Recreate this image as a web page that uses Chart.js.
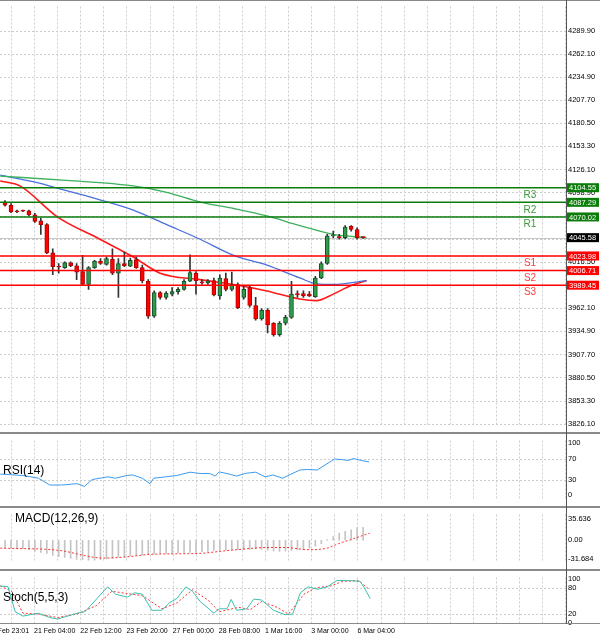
<!DOCTYPE html>
<html><head><meta charset="utf-8">
<script src="https://cdn.jsdelivr.net/npm/chart.js@4/dist/chart.umd.min.js"></script>
<style>
body{margin:0;width:600px;height:639px;background:#fff;position:relative;overflow:hidden;font-family:"Liberation Sans",Arial,sans-serif}
.p{position:absolute;left:0;width:600px}
.sep{position:absolute;left:0;width:600px;height:2px;background:#8a8a8a}
.lbl{position:absolute;font-size:12px;color:#000}
#vline{position:absolute;left:566px;top:0;width:1px;height:624px;background:#555}
</style></head><body>
<div class="p" style="top:0;height:432px"><canvas id="cMain"></canvas></div>
<div class="sep" style="top:0px;height:1px"></div>
<div class="sep" style="top:432px"></div>
<div class="p" style="top:434px;height:72px"><canvas id="cRsi"></canvas></div>
<div class="sep" style="top:506px"></div>
<div class="p" style="top:508px;height:61px"><canvas id="cMacd"></canvas></div>
<div class="sep" style="top:569px"></div>
<div class="p" style="top:571px;height:68px"><canvas id="cSto"></canvas></div>
<div class="sep" style="top:623px;height:1px"></div>
<div id="vline"></div>
<div class="lbl" style="left:3px;top:463px">RSI(14)</div>
<div class="lbl" style="left:15px;top:511px">MACD(12,26,9)</div>
<div class="lbl" style="left:3px;top:590px">Stoch(5,5,3)</div>
<script>
// ---- data ----
const openP=[4087.6,4083.8,4077.0,4077.3,4077.3,4072.4,4065.5,4060.9,4027.7,4011.3,4010.2,4015.9,4012.4,4005.6,3990.3,4010.2,4017.8,4014.0,4020.1,4003.7,4015.1,4012.0,4019.7,4010.2,3994.1,3952.9,3980.8,3975.0,3978.9,3981.9,3984.6,3994.1,4003.7,3993.4,3992.2,3994.9,3976.9,3997.2,3984.6,3990.3,3975.0,3986.5,3965.5,3949.5,3959.8,3944.5,3931.1,3944.5,3951.4,3979.6,3979.6,3978.9,3975.8,3998.0,4015.1,4047.6,4046.8,4045.6,4059.0,4055.2,4045.6];
const highP=[4089.5,4085.7,4078.1,4078.1,4078.1,4074.3,4068.6,4062.1,4032.3,4015.1,4017.0,4017.0,4015.1,4024.7,4011.3,4018.9,4020.8,4022.7,4032.3,4020.8,4028.5,4021.6,4022.7,4013.2,3996.0,3982.7,3981.9,3981.9,3986.5,3986.5,3996.0,4025.4,4005.6,3996.0,3996.0,3998.0,4001.8,4003.7,4004.8,3992.2,3988.4,3988.4,3975.0,3961.7,3961.7,3945.3,3946.4,3954.0,3994.1,3982.7,3982.7,3981.9,3999.8,4017.0,4049.5,4053.3,4049.5,4059.8,4059.8,4057.1,4046.5];
const lowP=[4082.7,4075.0,4075.0,4076.2,4071.2,4063.6,4049.5,4026.6,4001.8,4003.7,4009.4,4011.3,3996.0,3990.3,3984.6,4009.4,4014.0,4013.2,4001.8,3975.0,4011.3,4011.3,4009.4,3992.2,3950.2,3951.4,3973.1,3973.1,3976.9,3978.9,3983.5,3993.5,3978.9,3990.3,3990.3,3976.9,3973.1,3982.7,3982.7,3961.7,3973.1,3963.6,3948.3,3948.3,3933.1,3929.2,3929.2,3942.6,3950.2,3975.0,3975.0,3975.8,3975.0,3997.2,4014.0,4045.6,4043.7,4044.5,4053.3,4043.7,4044.8];
const closeP=[4083.8,4076.2,4076.2,4077.0,4072.4,4064.7,4060.9,4027.7,4011.3,4010.9,4016.3,4012.4,4004.8,3990.3,4010.2,4017.8,4015.1,4020.8,4003.7,4015.1,4012.4,4018.9,4010.2,3994.9,3952.9,3980.8,3975.0,3980.0,3981.9,3984.6,3994.1,4004.4,3994.9,3992.2,3994.5,3978.1,3998.0,3984.6,3990.3,3962.8,3984.6,3965.5,3949.5,3959.8,3942.6,3931.1,3944.5,3951.4,3978.9,3978.1,3976.9,3976.9,3998.0,4015.1,4047.6,4048.3,4045.6,4058.2,4055.2,4045.6,4045.58];
const maFast=[[-0.8,4112.4],[2.5,4106.7],[8.7,4070.5],[15.9,4043.7],[21.5,4022.7],[26,4003.7],[32.7,3996.0],[38.3,3990.3],[43.9,3982.7],[49.4,3973.1],[52.2,3971.2],[55,3978.9],[57.8,3988.4],[60.6,3994.9]];
const maMid=[[-0.8,4119.3],[4.7,4111.7],[10.3,4101.0],[15.9,4090.3],[21.5,4078.1],[27.1,4060.9],[32.7,4043.7],[38.3,4024.7],[43.9,4013.2],[49.4,3998.0],[52.2,3991.1],[55,3990.3],[60.6,3994.9]];
const maSlow=[[-0.8,4118.2],[10.3,4113.2],[21.5,4106.7],[27.1,4099.1],[32.7,4087.6],[38.3,4080.0],[43.9,4071.2],[49.4,4059.8],[55,4049.5],[60.6,4045.6]];
const resistance=[4104.55,4087.29,4070.02];
const resistanceNames=['R3','R2','R1'];
const support=[4023.98,4006.71,3989.45];
const supportNames=['S1','S2','S3'];
const lastPrice=4045.58;
const priceTicks=[4289.9,4262.1,4234.9,4207.7,4180.5,4153.3,4126.1,4098.9,4071.7,4044.5,4016.5,3989.3,3962.1,3934.9,3907.7,3880.5,3853.3,3826.1];
const rsi=[[-0.8,40.6],[3,38],[5.6,32.8],[7.5,19.8],[9.5,19.8],[12.1,22.4],[13.3,17.2],[14.6,30.2],[17.2,35.4],[18.5,32.8],[20.4,38],[21.4,39],[23,32.8],[24.3,22.4],[24.9,32.8],[26.9,35.4],[28.8,38],[31,44.3],[32.7,41.7],[34.3,41.7],[35.2,37],[35.9,44.8],[37.2,41.7],[38.8,37],[40.4,42.2],[42,44.3],[43.6,35.4],[44.9,39],[46.5,32.8],[49.4,48.4],[50.7,49.5],[52.3,48.4],[55.2,69.3],[56.5,68.2],[57.5,66.6],[58.4,70.3],[59.7,66.6],[61,64]];
const rsiTicks=[0,30,70,100];
const macdHist=[-13,-13,-13,-14,-15.6,-18,-20,-22,-25,-27,-28.6,-30,-31.6,-32,-33,-33,-32,-31,-29.5,-28,-27.3,-26,-25,-24,-23,-22.5,-22,-22,-22,-21,-20.8,-20,-20,-19,-18.6,-17,-16.5,-16,-16,-15.6,-15.6,-15,-14.3,-15,-16.5,-17.5,-18.6,-18,-17,-16,-15.6,-13,-10,-5.6,0.9,6,11.7,14.7,17.3,20.4,21.2];
const macdSignal=[[-0.8,-13],[8.8,-16.5],[16.6,-29.5],[19.8,-28],[25,-23],[32,-22],[37.9,-16.5],[44.3,-12],[46.9,-12],[50.8,-15.6],[54,-13],[55.9,-5.6],[57.9,0.9],[61.1,11.7]];
const macdTicks=[35.636,0,-31.684];
const stochMain=[[-0.8,84.7],[0.5,83],[1.7,26],[3,16],[5.6,22.7],[7.5,12.7],[8.8,9.3],[12.1,22.7],[13.4,26],[17.2,82.7],[18.5,66],[20.5,59.3],[21.7,69.3],[23,66],[24.6,29.3],[26.3,29.3],[27.5,46],[28.8,56],[30.3,82.7],[31.4,72.7],[32.7,49.3],[35,22.7],[35.9,32.7],[37.2,32.7],[37.9,54],[38.8,29.3],[40.5,32.7],[41.7,54.7],[43,52.7],[45,29.3],[46.9,19.3],[48.2,20.7],[49.5,69.3],[50.8,82.7],[52.4,77.3],[54,82.7],[55.6,97.3],[57.2,97.3],[59.5,95.3],[60.1,82.7],[61.2,56]];
const stochSignal=[[-0.8,84.7],[1.1,72.7],[3,22.7],[5.6,20.7],[8.8,12.7],[12.1,20.7],[15.3,40],[17.9,72.7],[20.5,67.3],[23,62.7],[26.3,32.7],[28.8,46],[31.4,76],[34,52.7],[35.9,26],[39.2,36],[41.1,30.7],[43,49.3],[45.6,36],[47.5,20.7],[50.1,66],[52.1,80.7],[54.6,84.7],[56.6,95.3],[59.2,96.7],[61.1,76]];
const stochTicks=[0,20,80,100];
const timeLabels=['20 Feb 23:01','21 Feb 04:00','22 Feb 12:00','23 Feb 20:00','27 Feb 00:00','28 Feb 08:00','1 Mar 16:00','3 Mar 00:00','6 Mar 04:00'];
// ---- layout helpers ----
const XMIN=-0.84, XMAX=94.0, GRID0=-2.87, GSTEP=3.87;
const gridIdx=[]; for(let k=0;k<27;k++) gridIdx.push(GRID0+k*GSTEP);
const FONT="'Liberation Sans', Arial, sans-serif";
const xScale={type:'linear',min:XMIN,max:XMAX,offset:false,
  grid:{display:false,drawTicks:false,tickLength:0},border:{display:false},ticks:{display:false}};
function yScale(min,max,ticks,fmt){
  return {position:'right',min,max,
    afterBuildTicks:s=>{s.ticks=ticks.map(v=>({value:v}));},
    afterFit:s=>{s.width=34;},
    grid:{display:false,drawTicks:false,tickLength:0},border:{display:false},
    ticks:{padding:2,color:'#000',font:{family:FONT,size:7.5},callback:fmt}};
}
Chart.defaults.animation=false;
Chart.defaults.plugins.legend.display=false;
Chart.defaults.plugins.tooltip.enabled=false;
const gridPlugin={id:'gridlines',
  beforeDatasetsDraw(c,args,opts){
    const {ctx,chartArea:a,scales:{x,y}}=c;
    ctx.save();ctx.strokeStyle='#cdcdcd';ctx.lineWidth=1;ctx.setLineDash([2,2]);
    ctx.beginPath();
    gridIdx.forEach(v=>{const px=Math.round(x.getPixelForValue(v))+0.5;
      if(px>a.left&&px<a.right){ctx.moveTo(px,a.top);ctx.lineTo(px,a.bottom);}});
    (opts.h||[]).forEach(v=>{const py=Math.round(y.getPixelForValue(v))+0.5;ctx.moveTo(a.left,py);ctx.lineTo(a.right,py);});
    ctx.stroke();ctx.restore();
  },
  afterDraw(c,args,opts){
    if(!opts.labels) return;
    const {ctx,chartArea:a,scales:{x}}=c;
    ctx.save();ctx.fillStyle='#000';ctx.font='7px '+FONT;ctx.textBaseline='middle';ctx.textAlign='left';
    timeLabels.forEach((t,j)=>{const px=x.getPixelForValue(gridIdx[2*j]);ctx.fillText(t,px,a.bottom+7);});
    ctx.restore();
  }};
// ---- main chart ----
const up=closeP.map((c,i)=>c>=openP[i]);
const levelPlugin={id:'levels',
  beforeDatasetsDraw(c){
    const {ctx,chartArea:a,scales:{y}}=c;
    ctx.save();ctx.strokeStyle='#c8c8c8';ctx.lineWidth=1;
    const py=Math.round(y.getPixelForValue(lastPrice))+0.5;
    ctx.beginPath();ctx.moveTo(a.left,py);ctx.lineTo(a.right,py);ctx.stroke();ctx.restore();
  },
  afterDatasetsDraw(c){
    const {ctx,chartArea:a,scales:{y}}=c;
    ctx.save();ctx.lineWidth=1.5;ctx.font='10px '+FONT;ctx.textAlign='center';ctx.textBaseline='middle';
    const draw=(lv,names,col,tcol)=>lv.forEach((v,i)=>{
      const py=y.getPixelForValue(v);
      ctx.strokeStyle=col;ctx.beginPath();ctx.moveTo(a.left,py);ctx.lineTo(a.right,py);ctx.stroke();
      ctx.fillStyle=tcol;ctx.fillText(names[i],530,py+7.5);
    });
    draw(resistance,resistanceNames,'#0a7d0a','#3a9a3a');
    draw(support,supportNames,'#ff0000','#ff4040');
    ctx.restore();
  },
  afterDraw(c){
    const {ctx,chartArea:a,scales:{y}}=c;
    ctx.save();ctx.font='7.5px '+FONT;ctx.textBaseline='middle';ctx.textAlign='left';
    const box=(v,bg)=>{const py=y.getPixelForValue(v);ctx.fillStyle=bg;ctx.fillRect(a.right+1,py-4.5,32,9);
      ctx.fillStyle='#fff';ctx.fillText(v.toFixed(2),a.right+3,py+0.5);};
    resistance.forEach(v=>box(v,'#0a7d0a'));
    support.forEach(v=>box(v,'#ff0000'));
    box(lastPrice,'#000');
    ctx.restore();
  }};
const maStyle={type:'line',pointRadius:0,order:3,cubicInterpolationMode:'monotone'};
new Chart(document.getElementById('cMain'),{type:'bar',
  data:{datasets:[
    {...maStyle,data:maSlow.map(p=>({x:p[0],y:p[1]})),borderColor:'#3cb05a',borderWidth:1.3},
    {...maStyle,data:maMid.map(p=>({x:p[0],y:p[1]})),borderColor:'#4a6fe0',borderWidth:1.3},
    {...maStyle,data:maFast.map(p=>({x:p[0],y:p[1]})),borderColor:'#ff1a1a',borderWidth:1.6},
    {data:lowP.map((l,i)=>({x:i,y:[l,highP[i]]})),backgroundColor:'#333',barThickness:1,grouped:false,order:2},
    {data:openP.map((o,i)=>({x:i,y:[o,closeP[i]]})),backgroundColor:up.map(u=>u?'#2f9a4a':'#ff0000'),
     borderColor:up.map(u=>u?'#14502a':'#b00000'),borderWidth:1,borderSkipped:false,barThickness:4,minBarLength:1,grouped:false,order:1}
  ]},
  options:{responsive:true,maintainAspectRatio:false,layout:{padding:0},
    plugins:{gridlines:{h:priceTicks}},
    scales:{x:xScale,y:yScale(3823.8,4318.5,priceTicks,v=>v.toFixed(2))}},
  plugins:[gridPlugin,levelPlugin]});
// ---- RSI ----
new Chart(document.getElementById('cRsi'),{type:'line',
  data:{datasets:[{data:rsi.map(p=>({x:p[0],y:p[1]})),borderColor:'#3d9bf0',borderWidth:1,pointRadius:0}]},
  options:{responsive:true,maintainAspectRatio:false,layout:{padding:0},
    plugins:{gridlines:{h:[30,70]}},
    scales:{x:xScale,y:yScale(-7.8,104.7,rsiTicks,v=>String(v))}},
  plugins:[gridPlugin]});
// ---- MACD ----
new Chart(document.getElementById('cMacd'),{type:'bar',
  data:{datasets:[
    {type:'line',data:macdSignal.map(p=>({x:p[0],y:p[1]})),borderColor:'#ff3030',borderWidth:1,borderDash:[2,2],pointRadius:0,order:1,cubicInterpolationMode:'monotone'},
    {data:macdHist.map((v,i)=>({x:i,y:v})),backgroundColor:'#c4c4c4',barThickness:1,order:2}
  ]},
  options:{responsive:true,maintainAspectRatio:false,layout:{padding:0},
    plugins:{gridlines:{h:[]}},
    scales:{x:xScale,y:yScale(-36.8,42.5,macdTicks,v=>v===0?'0.00':v.toFixed(3))}},
  plugins:[gridPlugin]});
// ---- Stoch ----
new Chart(document.getElementById('cSto'),{type:'line',
  data:{datasets:[
    {data:stochMain.map(p=>({x:p[0],y:p[1]})),borderColor:'#3cc0b0',borderWidth:1,pointRadius:0},
    {data:stochSignal.map(p=>({x:p[0],y:p[1]})),borderColor:'#ff3030',borderWidth:1,borderDash:[2,2],pointRadius:0}
  ]},
  options:{responsive:true,maintainAspectRatio:false,layout:{padding:{bottom:15}},
    plugins:{gridlines:{h:[20,80],labels:true}},
    scales:{x:xScale,y:yScale(-2,104,stochTicks,v=>String(v))}},
  plugins:[gridPlugin]});
</script></body></html>
